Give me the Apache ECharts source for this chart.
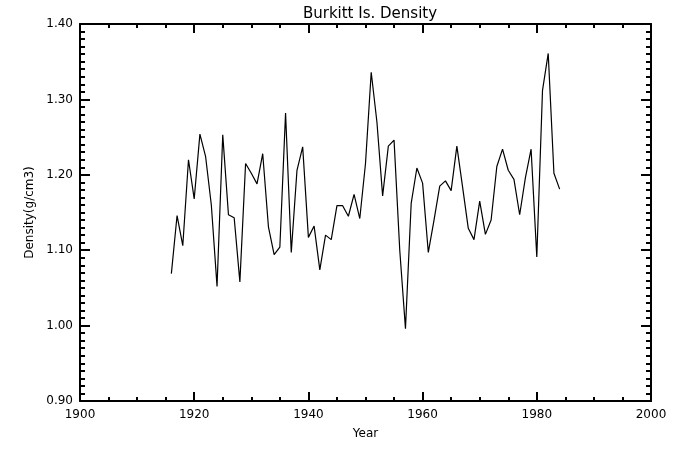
<!DOCTYPE html>
<html>
<head>
<meta charset="utf-8">
<script src="https://cdn.jsdelivr.net/npm/echarts@6/dist/echarts.min.js"></script>
<style>html,body{margin:0;padding:0;background:#fff}#c{width:675px;height:450px}</style>
</head>
<body>
<div id="c"></div>
<script>
var years = [];
for (var y = 1916; y <= 1984; y++) years.push(y);
var density = [
  1.069, 1.146, 1.106, 1.220, 1.168, 1.254, 1.224, 1.160, 1.052, 1.253,
  1.147, 1.143, 1.058, 1.215, 1.202, 1.188, 1.228, 1.131, 1.094, 1.104,
  1.282, 1.097, 1.206, 1.237, 1.117, 1.132, 1.074, 1.120, 1.114, 1.159,
  1.159, 1.145, 1.174, 1.142, 1.215, 1.336, 1.270, 1.172, 1.238, 1.246,
  1.100, 0.996, 1.162, 1.209, 1.189, 1.097, 1.140, 1.185, 1.192, 1.179,
  1.238, 1.184, 1.129, 1.114, 1.165, 1.121, 1.140, 1.211, 1.234, 1.206,
  1.194, 1.147, 1.196, 1.234, 1.091, 1.312, 1.361, 1.202, 1.181
];
var titleText = 'Burkitt Is. Density';
var xName = 'Year';
var yName = 'Density(g/cm3)';

var font = 'DejaVu Sans, sans-serif';
var data = years.map(function (yr, i) { return [yr, density[i]]; });
var lineStyle = { color: '#000', width: 2 };
var chart = echarts.init(document.getElementById('c'), null, { renderer: 'canvas' });
function xAxisCfg(show, pos) {
  return {
    type: 'value', position: pos, min: 1900, max: 2000, interval: 20,
    name: show ? xName : '', nameLocation: 'middle', nameGap: 27,
    nameTextStyle: { color: '#000', fontFamily: font, fontSize: 12 },
    axisLine: { show: true, onZero: false, lineStyle: lineStyle },
    axisTick: { show: true, inside: true, length: 9, lineStyle: { color: '#000', width: 2 } },
    minorTick: { show: true, splitNumber: 4, length: 4, lineStyle: { color: '#000', width: 2 } },
    axisLabel: { show: show, color: '#000', fontFamily: font, fontSize: 12, margin: 8,
      formatter: function (v) { return String(v); } },
    splitLine: { show: false }
  };
}
function yAxisCfg(show, pos) {
  return {
    type: 'value', position: pos, min: 0.9, max: 1.4, interval: 0.1,
    name: show ? yName : '', nameLocation: 'middle', nameGap: 44,
    nameTextStyle: { color: '#000', fontFamily: font, fontSize: 12 },
    axisLine: { show: true, onZero: false, lineStyle: lineStyle },
    axisTick: { show: true, inside: true, length: 10, lineStyle: { color: '#000', width: 2 } },
    minorTick: { show: true, splitNumber: 10, length: 5, lineStyle: { color: '#000', width: 2 } },
    axisLabel: { show: show, color: '#000', fontFamily: font, fontSize: 12, margin: 7,
      formatter: function (v) { return v.toFixed(2); } },
    splitLine: { show: false }
  };
}
chart.setOption({
  animation: false,
  backgroundColor: '#fff',
  title: { text: titleText, left: 365, top: 2, textAlign: 'center',
    textStyle: { color: '#000', fontFamily: font, fontSize: 15, fontWeight: 'normal' } },
  grid: { left: 80, right: 24, top: 24, bottom: 49, containLabel: false },
  xAxis: [xAxisCfg(true, 'bottom'), xAxisCfg(false, 'top')],
  yAxis: [yAxisCfg(true, 'left'), yAxisCfg(false, 'right')],
  series: [{
    type: 'line', data: data, xAxisIndex: 0, yAxisIndex: 0,
    showSymbol: false, symbol: 'none',
    lineStyle: { color: '#000', width: 1.2 }
  }]
});
</script>
</body>
</html>
